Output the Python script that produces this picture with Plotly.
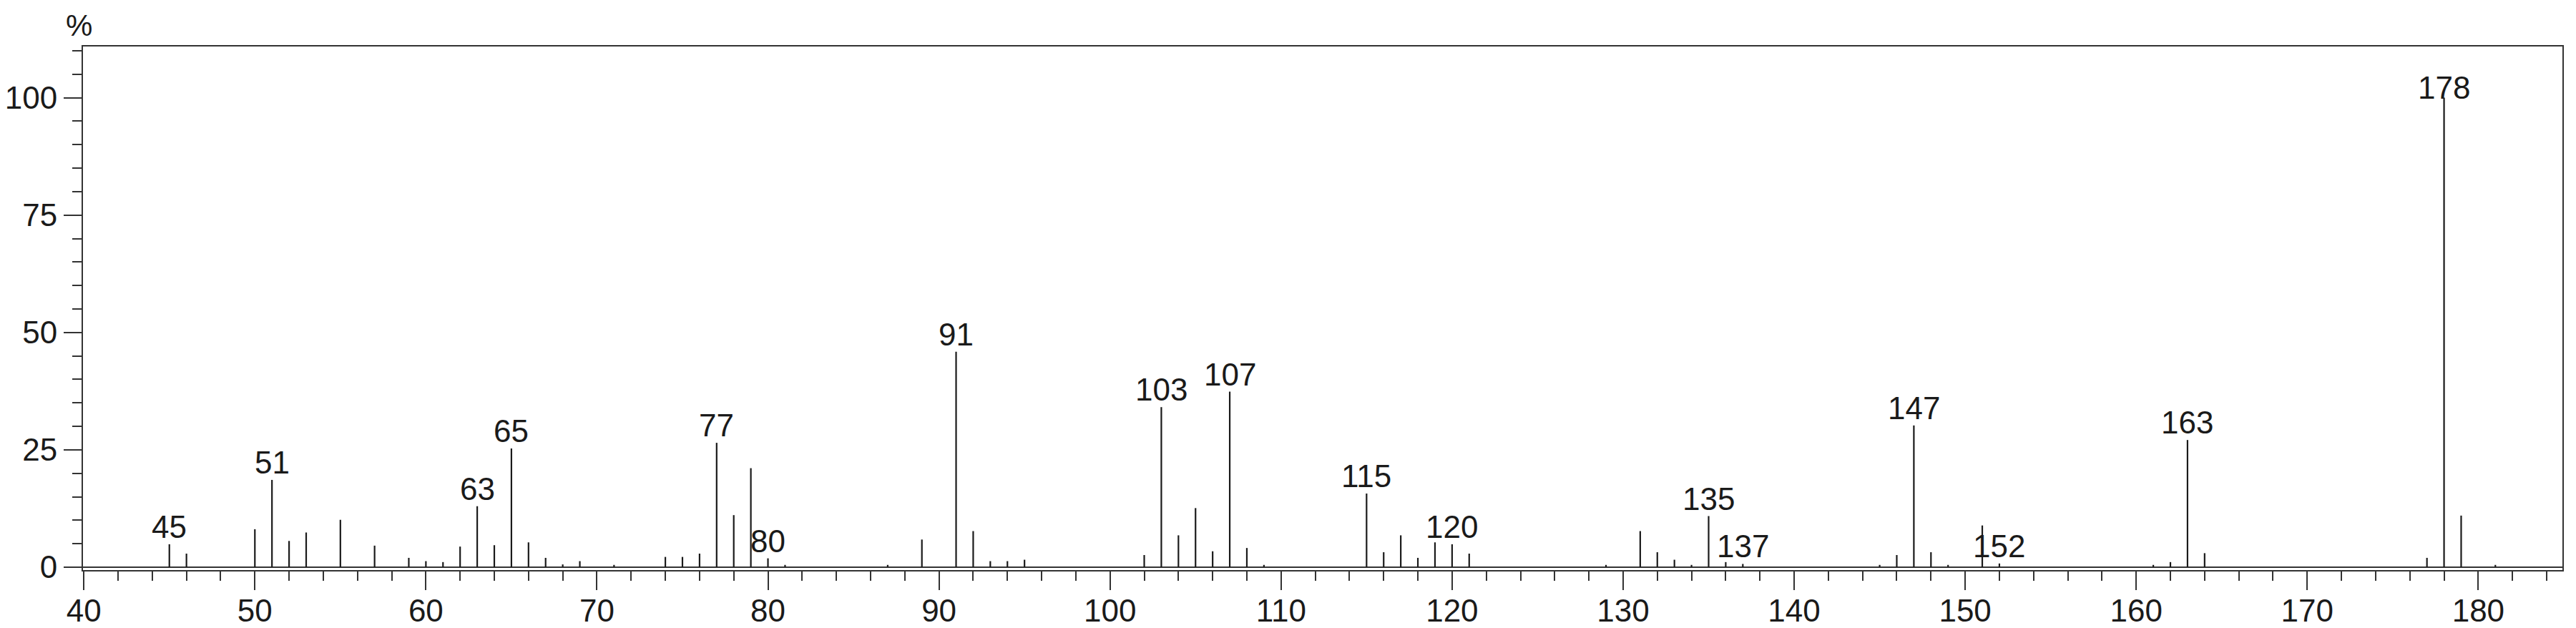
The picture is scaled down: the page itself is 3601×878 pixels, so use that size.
import plotly.graph_objects as go

# m/z values and relative intensities (%)
mz = [45, 46, 50, 51, 52, 53, 55, 57, 59, 60, 61, 62, 63, 64, 65, 66, 67, 68, 69,
      71, 74, 75, 76, 77, 78, 79, 80, 81, 87, 89, 91, 92, 93, 94, 95,
      102, 103, 104, 105, 106, 107, 108, 109, 115, 116, 117, 118, 119, 120, 121,
      129, 131, 132, 133, 134, 135, 136, 137, 145, 146, 147, 148, 149, 151, 152,
      161, 162, 163, 164, 177, 178, 179, 181]
intensity = [4.9, 2.9, 8.1, 18.6, 5.6, 7.4, 10.1, 4.6, 2.0, 1.3, 1.1, 4.4, 13.0, 4.7, 25.3, 5.3, 2.0, 0.6, 1.3,
             0.5, 2.2, 2.2, 2.9, 26.5, 11.1, 21.1, 1.9, 0.5, 0.5, 5.9, 45.9, 7.7, 1.3, 1.3, 1.6,
             2.6, 34.1, 6.8, 12.6, 3.4, 37.4, 4.1, 0.5, 15.7, 3.2, 6.8, 2.0, 5.3, 4.9, 2.9,
             0.5, 7.7, 3.2, 1.6, 0.5, 10.9, 1.1, 0.7, 0.5, 2.6, 30.2, 3.2, 0.5, 8.9, 0.8,
             0.5, 1.1, 27.1, 3.0, 2.0, 100.0, 11.0, 0.5]
labeled = [45, 51, 63, 65, 77, 80, 91, 103, 107, 115, 120, 135, 137, 147, 152, 163, 178]

x_ticks = [40, 50, 60, 70, 80, 90, 100, 110, 120, 130, 140, 150, 160, 170, 180]
y_ticks = [0, 25, 50, 75, 100]

FONT = "Liberation Sans, Arial, Helvetica, sans-serif"
FS = 44
INK = "#1a1a1a"
AX = "#333333"

xs, ys = [], []
for m, v in zip(mz, intensity):
    xs += [m, m, None]
    ys += [0, v, None]

fig = go.Figure()
fig.add_trace(go.Scatter(x=xs, y=ys, mode="lines",
                         line=dict(color=INK, width=2.2), hoverinfo="skip",
                         showlegend=False))

lookup = dict(zip(mz, intensity))
for m in labeled:
    fig.add_annotation(x=m, y=lookup[m], text=str(m), showarrow=False,
                       xanchor="center", yanchor="bottom",
                       yshift=(-12 if m == 178 else -2),
                       font=dict(family=FONT, size=FS, color=INK))

fig.add_annotation(x=0, y=1, xref="paper", yref="paper", text="%",
                   showarrow=False, xanchor="center", yanchor="bottom",
                   xshift=-6, yshift=4,
                   font=dict(family=FONT, size=42, color=INK))

fig.update_layout(
    width=3601, height=878,
    margin=dict(l=116, r=19, t=65, b=81),
    paper_bgcolor="white", plot_bgcolor="white",
    font=dict(family=FONT, size=FS, color=INK),
    xaxis=dict(range=[39.95, 184.92], tickmode="array", tickvals=x_ticks,
               ticktext=[str(t) for t in x_ticks], automargin=False,
               ticks="outside", ticklen=26, tickwidth=2, tickcolor=AX,
               ticklabelstandoff=-9,
               minor=dict(tickmode="linear", tick0=40, dtick=2, ticks="outside",
                          ticklen=13, tickwidth=2, tickcolor=AX, showgrid=False),
               showline=True, linecolor=AX, linewidth=2, mirror=True,
               showgrid=False, zeroline=False,
               tickfont=dict(family=FONT, size=FS, color=INK)),
    yaxis=dict(range=[-0.6, 110.9], tickmode="array", tickvals=y_ticks,
               ticktext=[str(t) for t in y_ticks], automargin=False,
               ticks="outside", ticklen=25, tickwidth=2, tickcolor=AX,
               minor=dict(tickmode="linear", tick0=0, dtick=5, ticks="outside",
                          ticklen=13, tickwidth=2, tickcolor=AX, showgrid=False),
               showline=True, linecolor=AX, linewidth=2, mirror=True,
               showgrid=False, zeroline=True, zerolinecolor=AX, zerolinewidth=2,
               tickfont=dict(family=FONT, size=FS, color=INK)),
)

# remove the browser's default 8px body margin so the figure fills the window
fig.write_html("out.html", config={"displayModeBar": False},
               post_script="document.body.style.margin='0px';")
